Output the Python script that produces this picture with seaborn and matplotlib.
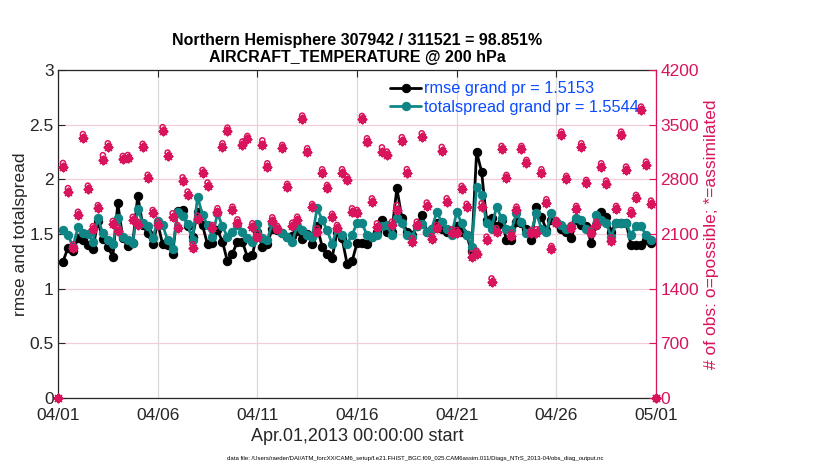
import pandas as pd
import matplotlib
matplotlib.use("Agg")
import matplotlib.pyplot as plt
import matplotlib.dates as mdates
import seaborn as sns

# rmse / totalspread every 6h (04/01 06Z .. 04/30 18Z)
rmse = [1.247, 1.375, 1.345, 1.46, 1.445, 1.40, 1.36, 1.62, 1.455, 1.385,
        1.29, 1.78, 1.46, 1.39, 1.415, 1.85, 1.58, 1.505, 1.405, 1.60,
        1.405, 1.40, 1.32, 1.71, 1.72, 1.57, 1.475, 1.70, 1.58, 1.405,
        1.42, 1.535, 1.43, 1.25, 1.32, 1.43, 1.43, 1.29, 1.305, 1.52,
        1.385, 1.41, 1.55, 1.535, 1.505, 1.475, 1.48, 1.53, 1.45, 1.50,
        1.41, 1.57, 1.385, 1.32, 1.28, 1.52, 1.46, 1.23, 1.25, 1.415,
        1.415, 1.41, 1.475, 1.52, 1.63, 1.52, 1.52, 1.92, 1.645, 1.52,
        1.49, 1.57, 1.675, 1.52, 1.55, 1.60, 1.55, 1.52, 1.505, 1.57,
        1.52, 1.49, 1.34, 2.25, 2.07, 1.63, 1.645, 1.57, 1.63, 1.445,
        1.445, 1.61, 1.60, 1.55, 1.445, 1.75, 1.66, 1.535, 1.63, 1.61,
        1.55, 1.52, 1.46, 1.63, 1.58, 1.57, 1.42, 1.58, 1.70, 1.66,
        1.52, 1.60, 1.60, 1.60, 1.40, 1.40, 1.40, 1.445, 1.415]

totalspread = [1.537, 1.49, 1.385, 1.56, 1.505, 1.50, 1.43, 1.65, 1.505, 1.445,
               1.405, 1.65, 1.475, 1.445, 1.42, 1.725, 1.60, 1.575, 1.46, 1.62,
               1.58, 1.445, 1.36, 1.70, 1.665, 1.59, 1.445, 1.84, 1.675, 1.58,
               1.475, 1.69, 1.57, 1.475, 1.52, 1.58, 1.52, 1.46, 1.43, 1.59,
               1.46, 1.445, 1.60, 1.55, 1.505, 1.475, 1.43, 1.575, 1.535, 1.49,
               1.475, 1.735, 1.63, 1.535, 1.41, 1.55, 1.49, 1.41, 1.49, 1.60,
               1.60, 1.49, 1.475, 1.49, 1.57, 1.58, 1.49, 1.645, 1.60, 1.49,
               1.475, 1.57, 1.59, 1.52, 1.55, 1.70, 1.61, 1.55, 1.49, 1.70,
               1.60, 1.49, 1.385, 1.93, 1.855, 1.60, 1.55, 1.75, 1.645, 1.55,
               1.535, 1.69, 1.61, 1.505, 1.52, 1.69, 1.55, 1.52, 1.69, 1.61,
               1.58, 1.55, 1.57, 1.645, 1.63, 1.55, 1.505, 1.675, 1.63, 1.60,
               1.475, 1.60, 1.60, 1.60, 1.49, 1.575, 1.57, 1.49, 1.445]

# obs counts, with the empty bin edges (04/01 00Z and 05/01 00Z) at 0
nobs_assim = [0,
              2962, 2642, 1925, 2343, 3333, 2676, 2160, 2429, 3048, 3218,
              2224, 2138, 3056, 3069, 2279, 2215, 3210, 2813, 2365, 2215,
              3423, 3099, 2322, 2173, 2783, 2600, 1925, 2292, 2877, 2715,
              2173, 2386, 3218, 3419, 2407, 2245, 3240, 3312, 2194, 2066,
              3240, 2962, 2271, 2160, 3197, 2698, 2202, 2279, 3573, 3154,
              2442, 2130, 2885, 2685, 2314, 2173, 2885, 2791, 2386, 2365,
              3568, 3282, 2514, 2194, 3154, 3112, 2215, 2407, 3295, 2885,
              2002, 2215, 3346, 2459, 2032, 2173, 3167, 2514, 2117, 2109,
              2672, 2442, 1810, 1844, 2450, 2023, 1489, 2130, 3184, 2813,
              2074, 2407, 3184, 3005, 2109, 2117, 2885, 2501, 1904, 2237,
              3368, 2800, 2173, 2416, 3218, 2749, 2117, 2215, 2962, 2740,
              2014, 2416, 3368, 2920, 2365, 2557, 3688, 2984, 2484,
              0]

nobs_poss = [0,
             3010, 2688, 1966, 2385, 3380, 2720, 2201, 2470, 3110, 3262,
             2268, 2180, 3100, 3112, 2320, 2258, 3255, 2858, 2408, 2258,
             3468, 3143, 2366, 2215, 2826, 2644, 1968, 2335, 2921, 2760,
             2215, 2430, 3262, 3462, 2450, 2288, 3285, 3356, 2238, 2108,
             3300, 3006, 2314, 2204, 3241, 2742, 2245, 2322, 3617, 3198,
             2485, 2172, 2929, 2728, 2358, 2216, 2930, 2835, 2430, 2408,
             3612, 3326, 2557, 2237, 3210, 3156, 2258, 2470, 3340, 2930,
             2045, 2258, 3390, 2503, 2075, 2216, 3215, 2558, 2160, 2152,
             2716, 2486, 1853, 1887, 2494, 2066, 1532, 2174, 3228, 2857,
             2117, 2450, 3228, 3049, 2152, 2160, 2929, 2545, 1947, 2281,
             3412, 2844, 2216, 2460, 3262, 2793, 2160, 2258, 3006, 2784,
             2057, 2460, 3412, 2964, 2408, 2601, 3732, 3028, 2528,
             0]

times_all = pd.date_range("2013-04-01 00:00", "2013-05-01 00:00", freq="6h")
times = times_all[1:-1]

df = pd.DataFrame({"time": times, "rmse": rmse, "totalspread": totalspread})
df_obs = pd.DataFrame({"time": times_all, "assim": nobs_assim, "poss": nobs_poss})

RED = "#d8145c"
TEAL = "#0f8585"
DARK = "#262626"

sns.set_style("white")
plt.rcParams["font.family"] = ["Liberation Sans", "DejaVu Sans"]

fig = plt.figure(figsize=(8.3, 4.7), dpi=100)
ax = fig.add_axes([0.06988, 0.15319, 0.72048, 0.69787])

# grid first so everything sits on top of it
ax.set_axisbelow(True)
ax.xaxis.grid(True, color="#d9d9d9", linewidth=0.9)
ax.yaxis.grid(True, color="#f5cbd9", linewidth=0.9)

sns.lineplot(data=df, x="time", y="rmse", ax=ax, color="black", linewidth=2,
             marker="o", markersize=6, markeredgecolor="black",
             label="rmse grand pr = 1.5153")
sns.lineplot(data=df, x="time", y="totalspread", ax=ax, color=TEAL, linewidth=2,
             marker="o", markersize=6, markeredgecolor=TEAL,
             label="totalspread grand pr = 1.5544")

ax.set_xlim(times_all[0], times_all[-1])
ax.set_ylim(0, 3)
ax.set_yticks([0, 0.5, 1, 1.5, 2, 2.5, 3])
ax.set_yticklabels(["0", "0.5", "1", "1.5", "2", "2.5", "3"])
ax.xaxis.set_major_locator(mdates.DayLocator(bymonthday=[1, 6, 11, 16, 21, 26]))
ax.xaxis.set_major_formatter(mdates.DateFormatter("%m/%d"))
ax.tick_params(direction="in", top=True, length=5, width=0.8, colors=DARK,
               labelsize=12.5)
ax.tick_params(axis="x", pad=7)
ax.tick_params(axis="y", pad=3)
ax.set_xlabel("Apr.01,2013 00:00:00 start", fontsize=13, color=DARK, labelpad=4)
ax.set_ylabel("rmse and totalspread", fontsize=12.5, color=DARK, labelpad=1)
for s in ["left", "top", "bottom"]:
    ax.spines[s].set_color(DARK)
    ax.spines[s].set_linewidth(0.9)
ax.spines["right"].set_visible(False)

ax.set_title("Northern Hemisphere 307942 / 311521 = 98.851%\nAIRCRAFT_TEMPERATURE @ 200 hPa",
             fontsize=11.5, fontweight="bold", color="black", pad=6, linespacing=1.15)

leg = ax.legend(loc="upper right", bbox_to_anchor=(0.982, 0.985), frameon=False,
                fontsize=11.8, handlelength=1.9, handletextpad=0.15,
                borderaxespad=0, labelspacing=0.2)
for t in leg.get_texts():
    t.set_color("#0a4bff")

# obs counts on the right axis
ax2 = ax.twinx()
sns.scatterplot(data=df_obs, x="time", y="poss", ax=ax2, marker="o", s=13,
                facecolors="none", edgecolor=RED, linewidth=1.1, legend=False)
sns.scatterplot(data=df_obs, x="time", y="assim", ax=ax2, marker=(8, 2, 0), s=30,
                color=RED, linewidth=1.6, legend=False)
for c in ax2.collections:
    c.set_clip_on(False)
ax2.set_xlim(times_all[0], times_all[-1])
ax2.set_ylim(0, 4200)
ax2.set_yticks(range(0, 4201, 700))
ax2.tick_params(axis="y", direction="in", length=5, width=0.8, colors=RED,
                labelsize=12.5, pad=3)
ax2.set_ylabel("# of obs: o=possible; *=assimilated", fontsize=12.5, color=RED,
               labelpad=4)
ax2.spines["right"].set_color(RED)
ax2.spines["right"].set_linewidth(0.9)
for s in ["left", "top", "bottom"]:
    ax2.spines[s].set_visible(False)

fig.text(0.5, 0.0255,
         "data file: /Users/raeder/DAI/ATM_forcXX/CAM6_setup/f.e21.FHIST_BGC.f09_025.CAM6assim.011/Diags_NTrS_2013-04/obs_diag_output.nc",
         ha="center", va="center", fontsize=4.3, color="black")

fig.savefig("out.png", dpi=100)
